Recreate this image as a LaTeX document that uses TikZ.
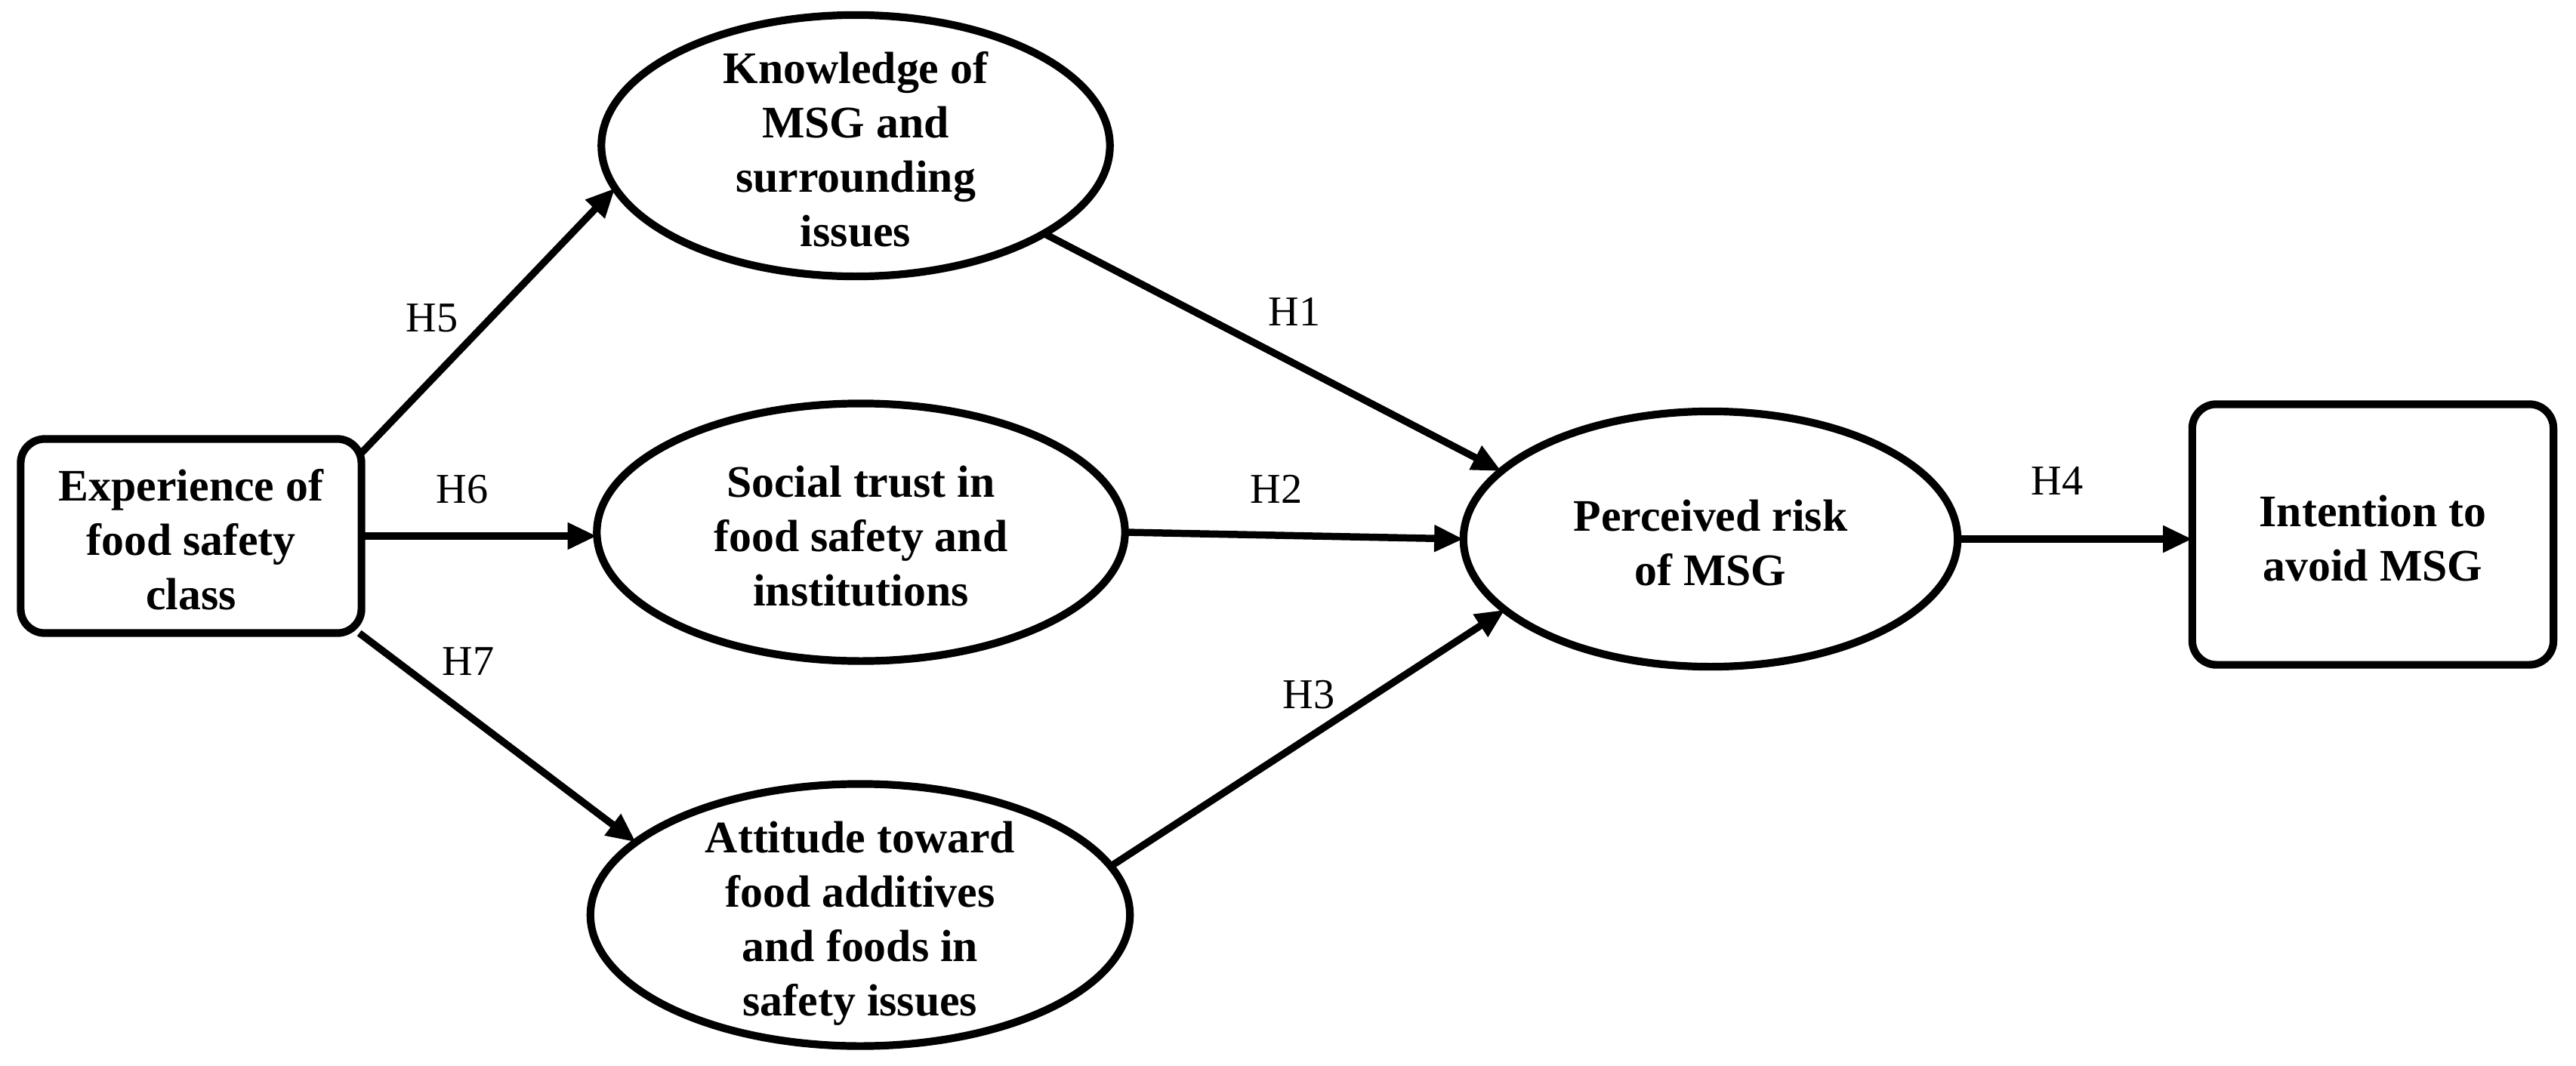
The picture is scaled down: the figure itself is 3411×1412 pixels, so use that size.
\documentclass[tikz,border=0pt]{standalone}
\usepackage{fontspec}
\setmainfont{Liberation Serif}
\usetikzlibrary{arrows.meta,shapes.geometric}
\newcommand{\mlines}[1]{\smash{\lower 7.5pt\hbox{\begin{tabular}{@{}c@{}}#1\end{tabular}}}}
\begin{document}
\begin{tikzpicture}[x=0.01cm,y=-0.01cm,
  every node/.style={inner sep=0pt,outer sep=0pt},
  txt/.style={font=\fontsize{17}{20.5}\selectfont\bfseries},
  ell/.style={txt,ellipse,draw,line width=2.9pt},
  rbox/.style={txt,rectangle,rounded corners=0.32cm,draw,line width=2.9pt},
  lbl/.style={font=\fontsize{16}{19}\selectfont},
  arr/.style={line width=2.7pt,-{Triangle[length=11pt,width=9.5pt]}}]
\useasboundingbox[fill=white] (0,0) rectangle (3411,1412);
% nodes
\node[rbox,minimum width=4.51cm,minimum height=2.57cm] (exp) at (253,710)
  {\mlines{Experience of\\food safety\\class}};
\node[ell,minimum width=6.73cm,minimum height=3.46cm] (kn) at (1133,193)
  {\mlines{Knowledge of\\MSG and\\surrounding\\issues}};
\node[ell,minimum width=6.99cm,minimum height=3.41cm] (st) at (1140,705)
  {\mlines{Social trust in\\food safety and\\institutions}};
\node[ell,minimum width=7.14cm,minimum height=3.47cm] (att) at (1139,1212)
  {\mlines{Attitude toward\\food additives\\and foods in\\safety issues}};
\node[ell,minimum width=6.54cm,minimum height=3.38cm] (pr) at (2265,714)
  {\mlines{Perceived risk\\of MSG}};
\node[rbox,minimum width=4.78cm,minimum height=3.45cm] (int) at (3142,708)
  {\mlines{Intention to\\avoid MSG}};
% connectors
\draw[arr] (exp.26) -- (kn.190);
\draw[arr] (exp.east) -- (exp.east -| st.west);
\draw[arr] (exp.-30.5) -- (att.162.6);
\draw[arr] (kn.-25) -- (pr.162.3);
\draw[arr] (st.east) -- (pr.west);
\draw[arr] (att.11.6) -- (pr.199.3);
\draw[arr] (pr.east) -- (pr.east -| int.west);
% labels
\node[lbl] (h5) at (572,421) {H5};
\node[lbl] (h6) at (612,648) {H6};
\node[lbl] (h7) at (620,876) {H7};
\node[lbl] (h1) at (1714,413) {H1};
\node[lbl] (h2) at (1690,648) {H2};
\node[lbl] (h3) at (1733,920) {H3};
\node[lbl] (h4) at (2724,637) {H4};
\end{tikzpicture}
\end{document}
